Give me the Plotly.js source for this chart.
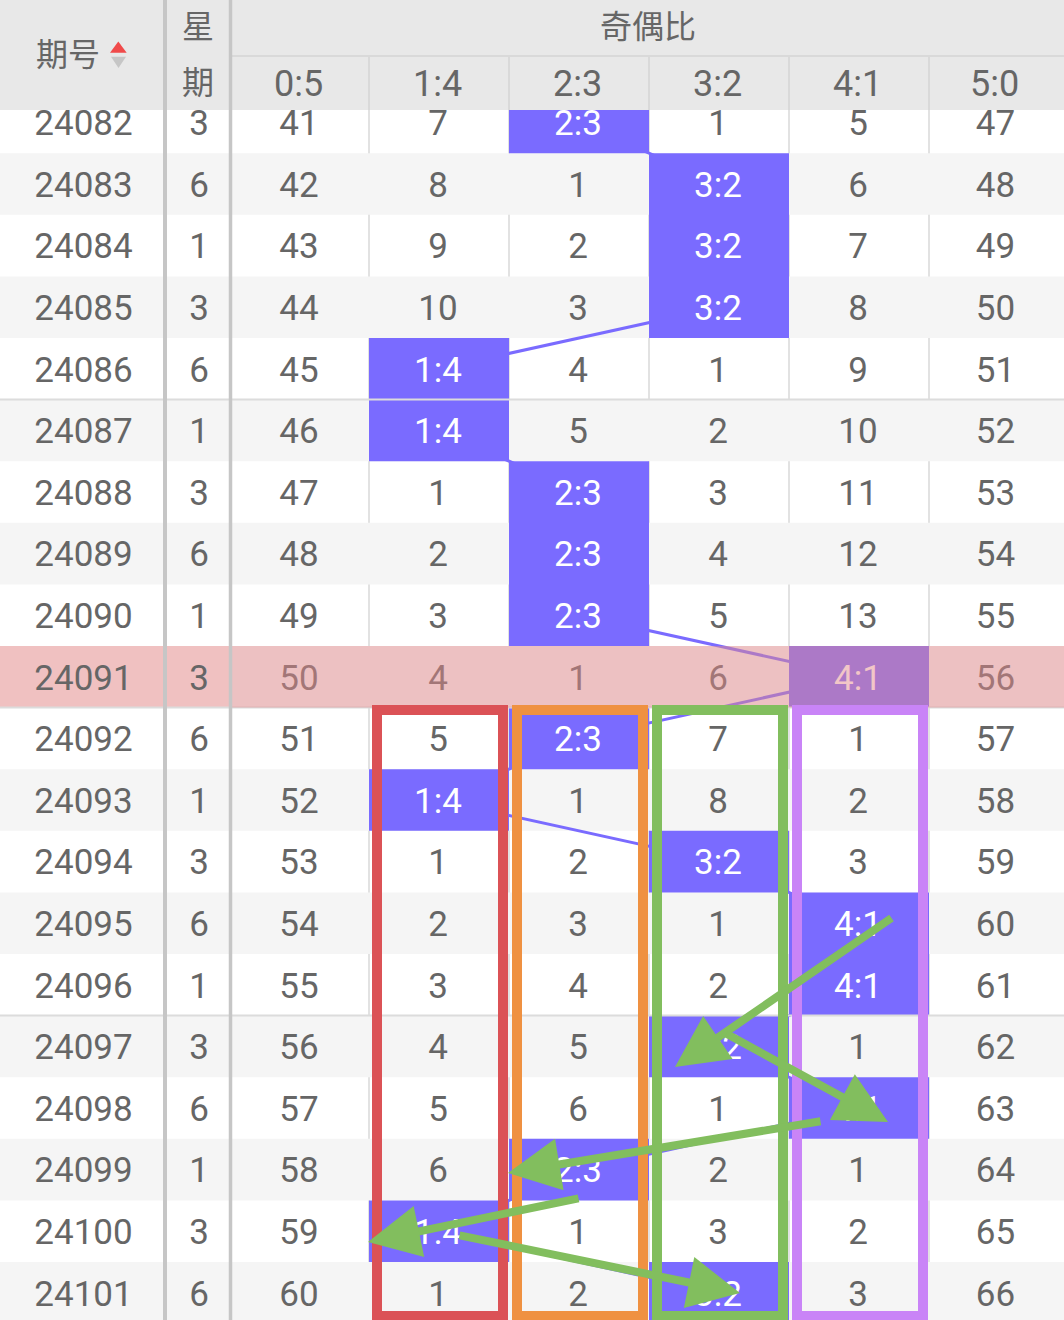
<!DOCTYPE html>
<html><head><meta charset="utf-8">
<script src="https://cdn.plot.ly/plotly-3.0.1.min.js"></script>
<style>html,body{margin:0;padding:0;background:#fff}#chart{width:1064px;height:1320px}</style>
</head><body><div id="chart"></div>
<script>
// ---------------- data ----------------
const issues = ['24082','24083','24084','24085','24086','24087','24088','24089','24090','24091',
                '24092','24093','24094','24095','24096','24097','24098','24099','24100','24101'];
const weekdays = [3,6,1,3,6,1,3,6,1,3,6,1,3,6,1,3,6,1,3,6];
const ratioLabels = ['0:5','1:4','2:3','3:2','4:1','5:0'];
const hits = ['2:3','3:2','3:2','3:2','1:4','1:4','2:3','2:3','2:3','4:1',
              '2:3','1:4','3:2','4:1','4:1','3:2','4:1','2:3','1:4','3:2'];
const miss05 = [41,42,43,44,45,46,47,48,49,50,51,52,53,54,55,56,57,58,59,60];
const miss14 = [7,8,9,10,null,null,1,2,3,4,5,null,1,2,3,4,5,6,null,1];
const miss23 = [null,1,2,3,4,5,null,null,null,1,null,1,2,3,4,5,6,null,1,2];
const miss32 = [1,null,null,null,1,2,3,4,5,6,7,8,null,1,2,null,1,2,3,null];
const miss41 = [5,6,7,8,9,10,11,12,13,null,1,2,3,null,null,1,null,1,2,3];
const miss50 = [47,48,49,50,51,52,53,54,55,56,57,58,59,60,61,62,63,64,65,66];
const highlightIssue = '24091';
const headIssue = '期号', headWeek = '星期', headGroup = '奇偶比';

// ---------------- layout constants ----------------
const W = 1064, H = 1320;
const COL_EDGES = [0,165,231,369,509,649,789,929,1064];
const ROW_H = 61.6, FIRST_CENTER = 122.4;
const TEXT_SHIFT = 4;
const HEADER_H = 110, HEADER_MID = 56;
const BLUE = '#7a6bff', TXT = '#666666';
const FONT = 'Roboto, "Noto Sans CJK SC", sans-serif';
const pxRow = p => (p - FIRST_CENTER) / ROW_H;
const pp = p => 1 - p / H;
const colCenter = c => (COL_EDGES[c] + COL_EDGES[c+1]) / 2;
const ratioCol = r => 2 + ratioLabels.indexOf(r);

const boxes = [
  {ratio:'1:4', color:'#db5256'},
  {ratio:'2:3', color:'#ef9141'},
  {ratio:'3:2', color:'#82be5e'},
  {ratio:'4:1', color:'#c984f7'}
];
const boxFrom = '24092', boxTo = '24101';
// hand drawn arrows: [tailX, tailYpx, tipX, tipYpx]
const arrowPaths = [
  [893,917,675,1067],
  [725,1033,888,1122],
  [822,1121,508,1173],
  [580,1198,368,1242],
  [458,1235,740,1293]
];

// ---------------- traces ----------------
const missCols = [miss05, miss14, miss23, miss32, miss41, miss50];
const rows = issues.map((_, i) => i);

const lineTrace = {
  type:'scatter', mode:'lines', hoverinfo:'skip',
  x: hits.map(h => colCenter(ratioCol(h))), y: rows,
  line:{color:BLUE, width:3}
};
const cx = [], cy = [];
hits.forEach((h, i) => {
  const c = ratioCol(h), x0 = COL_EDGES[c], x1 = COL_EDGES[c+1];
  cx.push(x0, x1, x1, x0, x0, null);
  cy.push(i-0.5, i-0.5, i+0.5, i+0.5, i-0.5, null);
});
const cellTrace = {
  type:'scatter', mode:'lines', fill:'toself', fillcolor:BLUE, hoverinfo:'skip',
  x:cx, y:cy, line:{width:0, color:BLUE}
};
const tx = [], ty = [], tt = [], tc = [];
const dy = TEXT_SHIFT / ROW_H;
rows.forEach(i => {
  tx.push(colCenter(0)+1); ty.push(i+dy); tt.push(issues[i]); tc.push(TXT);
  tx.push(colCenter(1)+1); ty.push(i+dy); tt.push(String(weekdays[i])); tc.push(TXT);
  ratioLabels.forEach((r, k) => {
    const v = missCols[k][i];
    tx.push(colCenter(2+k)-1); ty.push(i+dy);
    if (hits[i] === r) { tt.push(r); tc.push('#ffffff'); }
    else { tt.push(String(v)); tc.push(TXT); }
  });
});
const textTrace = {
  type:'scatter', mode:'text', hoverinfo:'skip', x:tx, y:ty, text:tt,
  textposition:'middle center', cliponaxis:false,
  textfont:{family:FONT, size:35, color:tc}
};

// ---------------- shapes ----------------
const shapes = [];
rows.forEach(i => {
  if (i % 2 === 1) shapes.push({type:'rect', layer:'below', xref:'x', yref:'y',
    x0:0, x1:W, y0:i-0.5, y1:i+0.5, fillcolor:'#f5f5f5', line:{width:0}});
});
const hi = issues.indexOf(highlightIssue);
shapes.push({type:'rect', layer:'below', xref:'x', yref:'y', x0:0, x1:COL_EDGES[2],
  y0:hi-0.5, y1:hi+0.5, fillcolor:'#f0c1c1', line:{width:0}});
COL_EDGES.slice(3, 8).forEach(x => shapes.push({type:'line', layer:'below', xref:'x', yref:'paper',
  x0:x, x1:x, y0:0, y1:1, line:{color:'#e2e2e2', width:2}}));
rows.forEach(i => {
  if (Number(issues[i]) % 5 === 2 && i > 0) shapes.push({type:'line', layer:'above', xref:'x', yref:'y',
    x0:0, x1:W, y0:i-0.5, y1:i-0.5, line:{color:'#dcdcdc', width:2}});
});
shapes.push({type:'rect', layer:'above', xref:'x', yref:'y', x0:COL_EDGES[2], x1:W,
  y0:hi-0.5, y1:hi+0.5, fillcolor:'rgba(228,135,137,0.48)', line:{width:0}});
shapes.push({type:'rect', layer:'above', xref:'x', yref:'paper', x0:0, x1:W,
  y0:pp(HEADER_H), y1:1, fillcolor:'#e8e8e8', line:{width:0}});
shapes.push({type:'line', layer:'above', xref:'x', yref:'paper', x0:COL_EDGES[2], x1:W,
  y0:pp(HEADER_MID), y1:pp(HEADER_MID), line:{color:'#d9d9d9', width:2}});
COL_EDGES.slice(3, 8).forEach(x => shapes.push({type:'line', layer:'above', xref:'x', yref:'paper',
  x0:x, x1:x, y0:pp(HEADER_H), y1:pp(HEADER_MID), line:{color:'#d9d9d9', width:2}}));
[[165,4],[230.5,3.5]].forEach(([x,w]) => shapes.push({type:'line', layer:'above', xref:'x', yref:'paper',
  x0:x, x1:x, y0:0, y1:1, line:{color:'#c6c6c6', width:w}}));
shapes.push({type:'path', layer:'above', xref:'x', yref:'paper',
  path:`M110,${pp(52.7)} L126.7,${pp(52.7)} L118.3,${pp(41.5)} Z`, fillcolor:'#f04a4a', line:{width:0}});
shapes.push({type:'path', layer:'above', xref:'x', yref:'paper',
  path:`M111,${pp(56.7)} L126,${pp(56.7)} L118.5,${pp(68)} Z`, fillcolor:'#c6c6c6', line:{width:0}});
const bi0 = issues.indexOf(boxFrom), bi1 = issues.indexOf(boxTo);
boxes.forEach(b => {
  const c = ratioCol(b.ratio);
  shapes.push({type:'rect', layer:'above', xref:'x', yref:'y',
    x0:COL_EDGES[c]+8, x1:COL_EDGES[c+1]-6,
    y0:bi0-0.5+2.5/ROW_H, y1:bi1+0.5-7.5/ROW_H,
    fillcolor:'rgba(0,0,0,0)', line:{color:b.color, width:10}});
});

// ---------------- annotations ----------------
const ann = [];
const hFont = (s) => ({family:FONT, size:s, color:TXT});
ann.push({xref:'x', yref:'paper', x:68, y:pp(55), text:headIssue, showarrow:false, font:hFont(32), xanchor:'center', yanchor:'middle'});
ann.push({xref:'x', yref:'paper', x:colCenter(1), y:pp(27), text:headWeek[0], showarrow:false, font:hFont(32), xanchor:'center', yanchor:'middle'});
ann.push({xref:'x', yref:'paper', x:colCenter(1), y:pp(83), text:headWeek[1], showarrow:false, font:hFont(32), xanchor:'center', yanchor:'middle'});
ann.push({xref:'x', yref:'paper', x:(COL_EDGES[2]+W)/2, y:pp(27), text:headGroup, showarrow:false, font:hFont(32), xanchor:'center', yanchor:'middle'});
ratioLabels.forEach((r,k) => ann.push({xref:'x', yref:'paper', x:colCenter(2+k)-2, y:pp(84), text:r,
  showarrow:false, font:hFont(36), xanchor:'center', yanchor:'middle'}));
arrowPaths.forEach(([ax, ay, x, y]) => ann.push({
  xref:'x', yref:'y', axref:'x', ayref:'y', x:x, y:pxRow(y), ax:ax, ay:pxRow(ay),
  text:'', showarrow:true, arrowhead:2, arrowsize:1.3, arrowwidth:8, arrowcolor:'#82be5e',
  standoff:0, startstandoff:0
}));

const layout = {
  width:W, height:H, margin:{l:0,r:0,t:0,b:0}, showlegend:false,
  paper_bgcolor:'#ffffff', plot_bgcolor:'#ffffff',
  xaxis:{range:[0,W], visible:false, fixedrange:true},
  yaxis:{range:[pxRow(H), pxRow(0)], visible:false, fixedrange:true},
  shapes:shapes, annotations:ann
};
Plotly.newPlot('chart', [lineTrace, cellTrace, textTrace], layout, {staticPlot:true, displayModeBar:false});
</script></body></html>
